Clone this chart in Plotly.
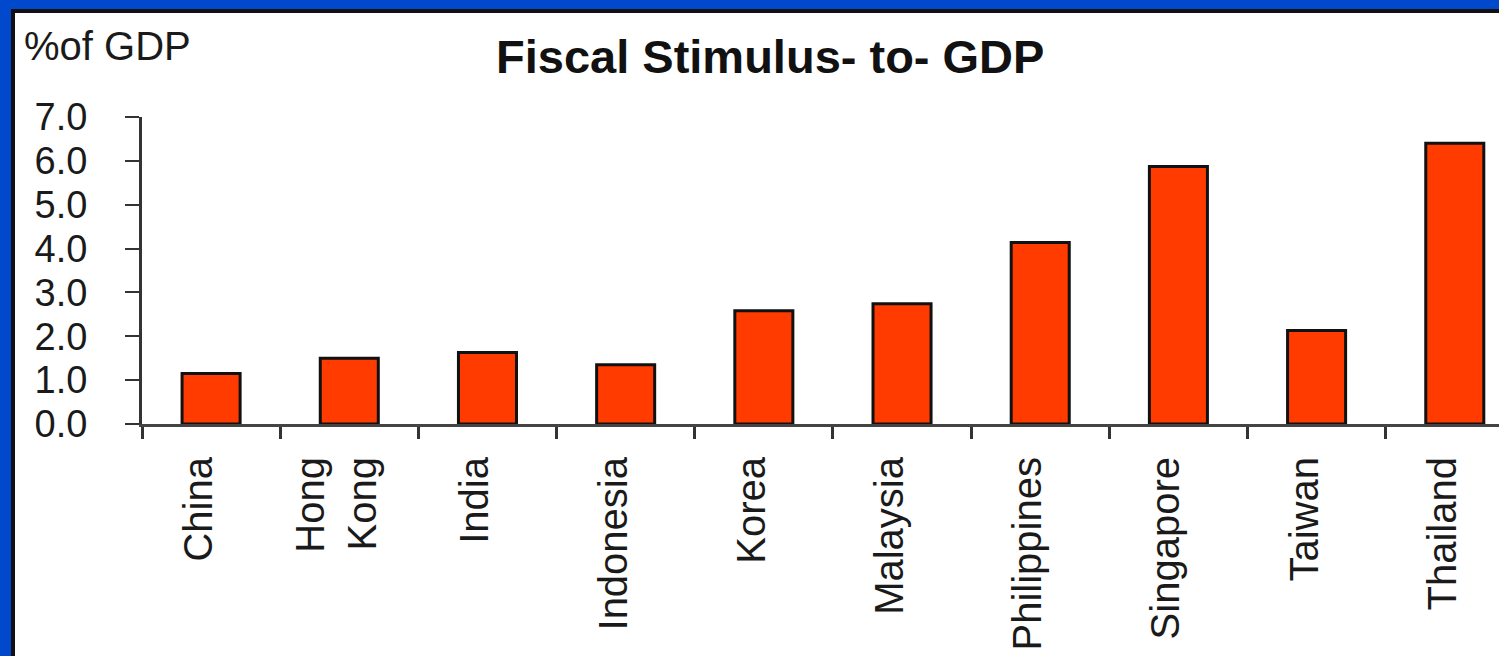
import plotly.graph_objects as go

categories = ["China", "Hong<br>Kong", "India", "Indonesia", "Korea", "Malaysia",
              "Philippines", "Singapore", "Taiwan", "Thailand"]
values = [1.15, 1.50, 1.63, 1.35, 2.58, 2.74, 4.14, 5.87, 2.13, 6.40]
y_ticks = [0, 1, 2, 3, 4, 5, 6, 7]
y_tick_labels = ["0.0", "1.0", "2.0", "3.0", "4.0", "5.0", "6.0", "7.0"]

FONT = "Liberation Sans, Arial, Helvetica, sans-serif"
W, H = 1499, 656
L, T, B = 142, 117, 232
PW = W - L
PH = H - T - B


def px_x(px):
    return (px - L) / PW


def px_y(py):
    return (H - B - py) / PH


fig = go.Figure()
fig.add_trace(go.Bar(
    x=categories,
    y=values,
    width=0.42,
    marker=dict(color="#FF3B00", line=dict(color="#111111", width=3)),
    showlegend=False,
))

fig.update_layout(
    width=W,
    height=H,
    margin=dict(l=L, r=0, t=T, b=B, pad=0),
    paper_bgcolor="#0048CC",
    plot_bgcolor="rgba(0,0,0,0)",
    font=dict(family=FONT, color="#222222"),
    bargap=0.58,
    xaxis=dict(
        type="category",
        range=[-0.5, 9.32],
        showgrid=False,
        showline=True,
        linecolor="#444444",
        linewidth=3,
        ticks="outside",
        tickson="boundaries",
        ticklen=12,
        tickwidth=3,
        tickcolor="#333333",
        tickangle=-90,
        tickfont=dict(size=40, family=FONT, color="#1a1a1a"),
        ticklabelstandoff=14,
        ticklabelshift=-12,
        zeroline=False,
    ),
    yaxis=dict(
        range=[0, 7],
        tickvals=y_ticks,
        ticktext=y_tick_labels,
        showgrid=False,
        showline=True,
        linecolor="#333333",
        linewidth=3,
        ticks="outside",
        ticklen=14,
        tickwidth=2,
        tickcolor="#333333",
        tickfont=dict(size=38, family=FONT, color="#1a1a1a"),
        ticklabelstandoff=30,
        zeroline=False,
    ),
    shapes=[
        dict(type="rect", xref="paper", yref="paper", layer="below",
             x0=px_x(13), x1=px_x(W + 20), y0=px_y(H + 20), y1=px_y(11),
             fillcolor="white", line=dict(color="#111111", width=4)),
    ],
    annotations=[
        dict(text="%of GDP", xref="paper", yref="paper",
             x=px_x(22), y=px_y(22), xanchor="left", yanchor="top",
             showarrow=False, font=dict(size=40, family=FONT, color="#1a1a1a")),
        dict(text="<b>Fiscal Stimulus- to- GDP</b>", xref="paper", yref="paper",
             x=px_x(770), y=px_y(57), xanchor="center", yanchor="middle",
             showarrow=False, font=dict(size=47, family=FONT, color="#111111")),
    ],
)

fig.write_html("out.html")
